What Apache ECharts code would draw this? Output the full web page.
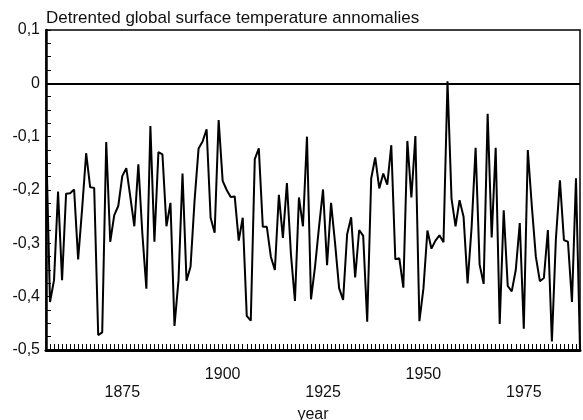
<!DOCTYPE html>
<html>
<head>
<meta charset="utf-8">
<script src="https://cdn.jsdelivr.net/npm/echarts@6/dist/echarts.min.js"></script>
<style>
  html, body { margin: 0; padding: 0; background: #fff; }
  #chart { width: 583px; height: 420px; }
</style>
</head>
<body>
<div id="chart"></div>
<script>
// years and detrended anomalies
let firstYear = 1856;
let anomaly = [
  -0.097, -0.41, -0.369, -0.203, -0.369, -0.207, -0.206, -0.199, -0.33, -0.235,
  -0.131, -0.195, -0.196, -0.472, -0.467, -0.11, -0.297, -0.247, -0.23, -0.174,
  -0.159, -0.213, -0.268, -0.152, -0.282, -0.385, -0.08, -0.297, -0.129, -0.133,
  -0.268, -0.224, -0.455, -0.369, -0.169, -0.37, -0.344, -0.22, -0.122, -0.109,
  -0.086, -0.252, -0.28, -0.069, -0.183, -0.2, -0.213, -0.212, -0.295, -0.252,
  -0.436, -0.445, -0.142, -0.122, -0.269, -0.269, -0.325, -0.35, -0.209, -0.29,
  -0.187, -0.32, -0.408, -0.214, -0.268, -0.1, -0.405, -0.344, -0.269, -0.199,
  -0.341, -0.224, -0.3, -0.384, -0.406, -0.283, -0.251, -0.364, -0.275, -0.286,
  -0.447, -0.178, -0.139, -0.197, -0.169, -0.19, -0.116, -0.33, -0.328, -0.383,
  -0.108, -0.214, -0.099, -0.446, -0.385, -0.276, -0.31, -0.295, -0.285, -0.298,
  0.004, -0.216, -0.268, -0.219, -0.25, -0.375, -0.27, -0.121, -0.34, -0.376,
  -0.057, -0.289, -0.121, -0.451, -0.238, -0.38, -0.39, -0.35, -0.262, -0.46,
  -0.125, -0.23, -0.325, -0.371, -0.365, -0.275, -0.484, -0.291, -0.182, -0.294,
  -0.297, -0.41, -0.178, -0.5
];
let yearLabels = [1875, 1900, 1925, 1950, 1975];
let lowLabels = [1875, 1925, 1975]; // these sit one line lower

let points = anomaly.map((v, i) => [firstYear + i, v]);

let myChart = echarts.init(document.getElementById('chart'));

let font = 'Liberation Sans, Arial, sans-serif';

option = {
    animation: false,
    title: {
        text: 'Detrented global surface temperature annomalies',
        left: 41,
        top: 5,
        textStyle: { fontFamily: font, fontSize: 17, fontWeight: 'normal', color: '#111' }
    },
    grid: {
        left: 46, right: 3, top: 30, bottom: 70,
        outerBoundsMode: 'none',
        show: true, borderColor: '#000', borderWidth: 1.5
    },
    xAxis: {
        type: 'value',
        min: 1856,
        max: 1989,
        interval: 1,
        name: 'year',
        nameLocation: 'middle',
        nameGap: 55,
        nameTextStyle: { fontFamily: font, fontSize: 16, color: '#111' },
        axisLine: { show: true, onZero: false, lineStyle: { color: '#000', width: 3 } },
        axisTick: { show: true, inside: true, length: 6, lineStyle: { color: '#000', width: 1 } },
        splitLine: { show: false },
        axisLabel: {
            fontFamily: font, fontSize: 16, color: '#111',
            margin: 16, lineHeight: 18,
            formatter: function (v) {
                if (yearLabels.indexOf(v) < 0) return '';
                return lowLabels.indexOf(v) >= 0 ? '\n' + v : '' + v;
            }
        }
    },
    yAxis: {
        type: 'value',
        min: -0.5,
        max: 0.1,
        interval: 0.025, // a tick every 0.025, label every 0.1
        axisLine: { show: true, onZero: false, lineStyle: { color: '#000', width: 2.5 } },
        axisTick: { show: true, inside: true, length: 5, lineStyle: { color: '#000' } },
        splitLine: { show: false },
        axisLabel: {
            fontFamily: font, fontSize: 16, color: '#111', margin: 6,
            formatter: function (v) {
                let k = Math.round(v * 40);
                if (k % 4 !== 0) return '';
                if (k === 0) return '0';
                return (k / 40).toFixed(1).replace('.', ',');
            }
        }
    },
    series: [
        {
            type: 'line',
            data: points,
            symbol: 'none',
            lineStyle: { color: '#000', width: 2 },
            markLine: {
                silent: true,
                symbol: 'none',
                label: { show: false },
                lineStyle: { color: '#000', type: 'solid', width: 2 },
                data: [{ yAxis: 0 }]
            }
        }
    ]
};
myChart.setOption(option);
</script>
</body>
</html>
